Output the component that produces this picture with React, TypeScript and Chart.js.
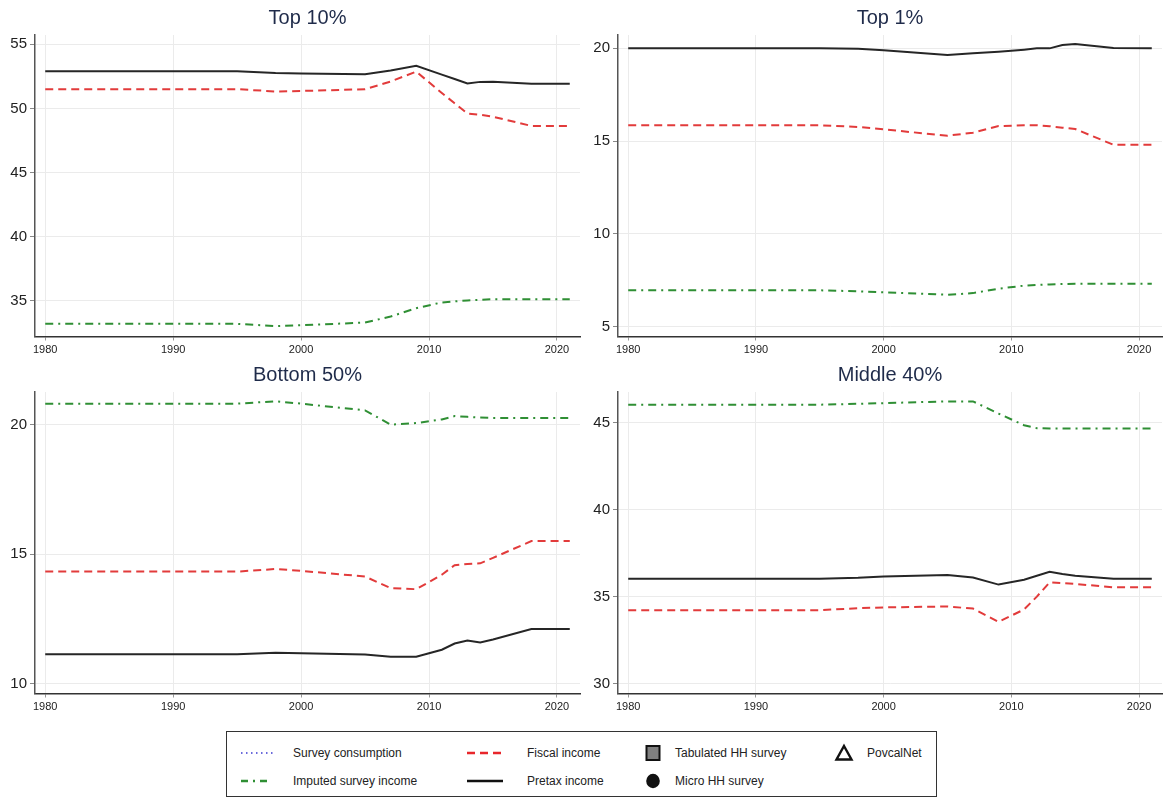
import React, { useEffect, useRef } from "react";
import { Chart, registerables } from "chart.js";

Chart.register(...registerables);

const FONT = '"Liberation Sans", Arial, sans-serif';

// ---- Data ----
const years = [1980, 1995, 1998, 2000, 2005, 2007, 2009, 2011, 2012, 2013, 2014, 2015, 2018, 2021];
const xTickValues = [1980, 1990, 2000, 2010, 2020];
const xTickLabels = ["1980", "1990", "2000", "2010", "2020"];

// Top 10%
const top10Pretax = [52.9, 52.9, 52.76, 52.72, 52.66, 52.95, 53.32, 52.64, 52.3, 51.95, 52.07, 52.08, 51.93, 51.93];
const top10Fiscal = [51.5, 51.5, 51.32, 51.36, 51.5, 52.1, 52.87, 51.2, 50.4, 49.6, 49.5, 49.35, 48.63, 48.63];
const top10Imputed = [33.18, 33.18, 33.0, 33.07, 33.28, 33.75, 34.4, 34.85, 34.93, 35.0, 35.05, 35.1, 35.1, 35.1];
const top10YTicks = [35, 40, 45, 50, 55];

// Top 1%
const top1Pretax = [20.0, 20.0, 19.98, 19.9, 19.64, 19.73, 19.82, 19.93, 20.0, 20.0, 20.18, 20.23, 20.02, 20.0];
const top1Fiscal = [15.85, 15.85, 15.76, 15.63, 15.29, 15.45, 15.81, 15.85, 15.85, 15.8, 15.72, 15.65, 14.8, 14.8];
const top1Imputed = [6.95, 6.95, 6.9, 6.84, 6.71, 6.8, 7.04, 7.2, 7.24, 7.27, 7.29, 7.31, 7.31, 7.31];
const top1YTicks = [5, 10, 15, 20];

// Bottom 50%
const bottom50Pretax = [11.13, 11.13, 11.18, 11.17, 11.12, 11.03, 11.03, 11.3, 11.54, 11.66, 11.58, 11.7, 12.1, 12.1];
const bottom50Fiscal = [14.32, 14.32, 14.42, 14.35, 14.13, 13.68, 13.64, 14.2, 14.57, 14.61, 14.64, 14.85, 15.5, 15.5];
const bottom50Imputed = [20.81, 20.81, 20.9, 20.81, 20.55, 20.0, 20.06, 20.2, 20.33, 20.3, 20.27, 20.26, 20.26, 20.26];
const bottom50YTicks = [10, 15, 20];

// Middle 40%
const middle40Pretax = [36.03, 36.03, 36.08, 36.15, 36.24, 36.1, 35.69, 35.97, 36.2, 36.43, 36.3, 36.2, 36.03, 36.03];
const middle40Fiscal = [34.22, 34.22, 34.33, 34.38, 34.43, 34.31, 33.55, 34.26, 35.0, 35.82, 35.78, 35.73, 35.53, 35.53];
const middle40Imputed = [46.03, 46.03, 46.08, 46.12, 46.22, 46.22, 45.52, 44.85, 44.68, 44.66, 44.66, 44.66, 44.66, 44.66];
const middle40YTicks = [30, 35, 40, 45];

const legendLabels = [
  "Survey consumption",
  "Imputed survey income",
  "Fiscal income",
  "Pretax income",
  "Tabulated HH survey",
  "Micro HH survey",
  "PovcalNet",
];

// ---- Styles ----
const RED = "#e23b3b";
const GREEN = "#2f8f34";
const BLACK = "#262626";
const BLUE = "#3a3ad0";
const TITLE_COLOR = "#1f2b4a";

type PanelProps = {
  title: string;
  pretax: number[];
  fiscal: number[];
  imputed: number[];
  yTicks: number[];
  yMin: number;
  yMax: number;
  left: number;
  top: number;
  width: number;
  height: number;
};

function Panel(p: PanelProps) {
  const ref = useRef<HTMLCanvasElement | null>(null);
  useEffect(() => {
    if (!ref.current) return;
    const pts = (arr: number[]) => arr.map((v, i) => ({ x: years[i], y: v }));
    const chart = new Chart(ref.current, {
      type: "line",
      data: {
        datasets: [
          {
            label: "Imputed survey income",
            data: pts(p.imputed),
            borderColor: GREEN,
            borderWidth: 2,
            borderDash: [8, 5, 2, 5],
            pointRadius: 0,
            tension: 0,
            fill: false,
          },
          {
            label: "Fiscal income",
            data: pts(p.fiscal),
            borderColor: RED,
            borderWidth: 2,
            borderDash: [8, 5],
            pointRadius: 0,
            tension: 0,
            fill: false,
          },
          {
            label: "Pretax income",
            data: pts(p.pretax),
            borderColor: BLACK,
            borderWidth: 2,
            pointRadius: 0,
            tension: 0,
            fill: false,
          },
        ],
      },
      options: {
        responsive: false,
        animation: false,
        devicePixelRatio: 1,
        layout: { padding: { left: 0, right: 8, top: 0, bottom: 0 } },
        plugins: {
          legend: { display: false },
          tooltip: { enabled: false },
          title: {
            display: true,
            text: p.title,
            fullSize: false,
            color: TITLE_COLOR,
            font: { family: FONT, size: 20, weight: "normal", lineHeight: 1.2 },
            padding: { top: 6, bottom: 5 },
          },
        },
        scales: {
          x: {
            type: "linear",
            min: 1979.2,
            max: 2021.8,
            afterBuildTicks: (s: any) => {
              s.ticks = xTickValues.map((v) => ({ value: v }));
            },
            afterFit: (s: any) => {
              s.height = 20.5;
            },
            ticks: {
              autoSkip: false,
              maxRotation: 0,
              padding: 3,
              color: "#222",
              font: { family: FONT, size: 11 },
              callback: (v: any) => {
                const i = xTickValues.indexOf(Number(v));
                return i >= 0 ? xTickLabels[i] : "";
              },
            },
            grid: { color: "#ebebeb", tickColor: "#999", tickLength: 4, lineWidth: 1 },
            border: { color: "#333", width: 1.5 },
          },
          y: {
            type: "linear",
            min: p.yMin,
            max: p.yMax,
            afterBuildTicks: (s: any) => {
              s.ticks = p.yTicks.map((v) => ({ value: v }));
            },
            afterFit: (s: any) => {
              s.width = 35;
            },
            ticks: {
              autoSkip: false,
              padding: 3,
              color: "#222",
              font: { family: FONT, size: 15 },
              callback: (v: any) => String(v),
            },
            grid: { color: "#ebebeb", tickColor: "#888", tickLength: 5, lineWidth: 1 },
            border: { color: "#555", width: 1.5 },
          },
        },
      } as any,
    });
    return () => chart.destroy();
  }, []);
  return (
    <canvas
      ref={ref}
      width={p.width}
      height={p.height}
      style={{ position: "absolute", left: p.left, top: p.top, width: p.width, height: p.height }}
    />
  );
}

function LineSym({ dash, color, width, x1, x2 }: { dash?: string; color: string; width: number; x1: number; x2: number }) {
  return (
    <svg width={x2 - x1 + 2} height={10} style={{ position: "absolute", left: x1, top: -5 }}>
      <line x1={0} y1={5} x2={x2 - x1} y2={5} stroke={color} strokeWidth={width} strokeDasharray={dash} />
    </svg>
  );
}

function Legend() {
  const textStyle: React.CSSProperties = {
    position: "absolute",
    fontFamily: FONT,
    fontSize: 12,
    color: "#222",
    whiteSpace: "nowrap",
    transform: "translateY(-50%)",
    lineHeight: "14px",
  };
  // positions relative to legend box (left 226, top 731)
  const r1 = 21;
  const r2 = 49;
  return (
    <div
      style={{
        position: "absolute",
        left: 226,
        top: 731,
        width: 711,
        height: 66,
        border: "1.5px solid #333",
        boxSizing: "border-box",
        background: "#fff",
      }}
    >
      <div style={{ position: "absolute", left: 0, top: r1 }}>
        <LineSym dash="1.5 3.5" color={BLUE} width={1.5} x1={14} x2={46} />
      </div>
      <div style={{ ...textStyle, left: 66, top: r1 }}>{legendLabels[0]}</div>
      <div style={{ position: "absolute", left: 0, top: r2 }}>
        <LineSym dash="7 5 2 5" color={GREEN} width={2.5} x1={14} x2={44} />
      </div>
      <div style={{ ...textStyle, left: 66, top: r2 }}>{legendLabels[1]}</div>

      <div style={{ position: "absolute", left: 0, top: r1 }}>
        <LineSym dash="8 5" color="#e8262b" width={2.5} x1={240} x2={276} />
      </div>
      <div style={{ ...textStyle, left: 300, top: r1 }}>{legendLabels[2]}</div>
      <div style={{ position: "absolute", left: 0, top: r2 }}>
        <LineSym color="#111" width={2.5} x1={240} x2={276} />
      </div>
      <div style={{ ...textStyle, left: 300, top: r2 }}>{legendLabels[3]}</div>

      <svg width={20} height={20} style={{ position: "absolute", left: 416, top: r1 - 10 }}>
        <rect x={3.5} y={3} width={13} height={14} fill="#808080" stroke="#111" strokeWidth={2} />
      </svg>
      <div style={{ ...textStyle, left: 448, top: r1 }}>{legendLabels[4]}</div>
      <svg width={20} height={20} style={{ position: "absolute", left: 416, top: r2 - 10 }}>
        <ellipse cx={10} cy={10} rx={6.8} ry={7.2} fill="#111" />
      </svg>
      <div style={{ ...textStyle, left: 448, top: r2 }}>{legendLabels[5]}</div>

      <svg width={22} height={20} style={{ position: "absolute", left: 606, top: r1 - 10 }}>
        <polygon points="11,3 18.5,16.5 3.5,16.5" fill="none" stroke="#111" strokeWidth={2.4} strokeLinejoin="miter" />
      </svg>
      <div style={{ ...textStyle, left: 640, top: r1 }}>{legendLabels[6]}</div>
    </div>
  );
}

export default function App() {
  return (
    <div
      style={{
        position: "absolute",
        left: 0,
        top: 0,
        width: 1176,
        height: 799,
        background: "#fff",
        overflow: "hidden",
      }}
    >
      <Panel title="Top 10%" pretax={top10Pretax} fiscal={top10Fiscal} imputed={top10Imputed}
        yTicks={top10YTicks} yMin={32.19} yMax={55.73} left={0} top={0} width={588} height={357} />
      <Panel title="Top 1%" pretax={top1Pretax} fiscal={top1Fiscal} imputed={top1Imputed}
        yTicks={top1YTicks} yMin={4.46} yMax={20.72} left={583} top={0} width={587} height={357} />
      <Panel title="Bottom 50%" pretax={bottom50Pretax} fiscal={bottom50Fiscal} imputed={bottom50Imputed}
        yTicks={bottom50YTicks} yMin={9.61} yMax={21.26} left={0} top={357} width={588} height={357} />
      <Panel title="Middle 40%" pretax={middle40Pretax} fiscal={middle40Fiscal} imputed={middle40Imputed}
        yTicks={middle40YTicks} yMin={29.43} yMax={46.76} left={583} top={357} width={587} height={357} />
      <Legend />
    </div>
  );
}
